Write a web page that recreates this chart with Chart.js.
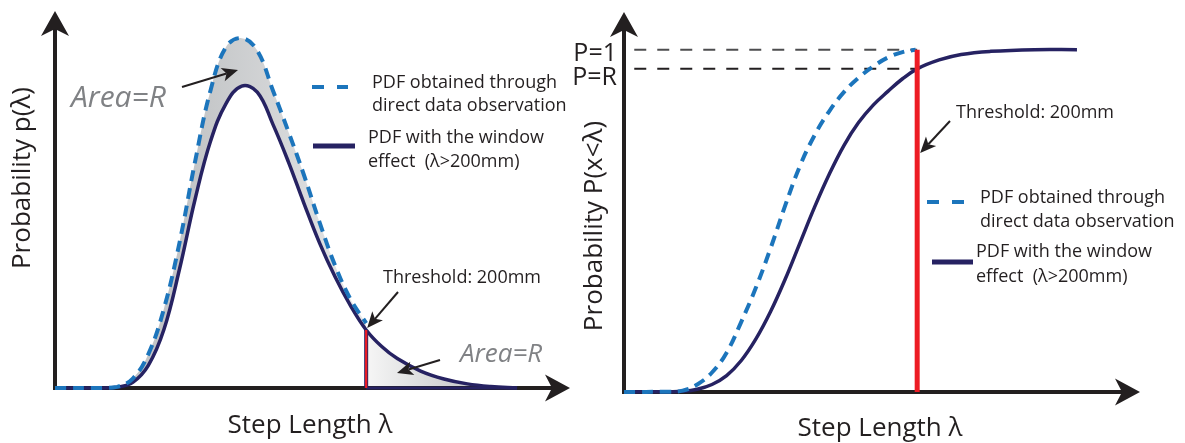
<!DOCTYPE html>
<html>
<head>
<meta charset="utf-8">
<script src="https://cdn.jsdelivr.net/npm/chart.js@4.4.1/dist/chart.umd.min.js"></script>
<style>
  html, body { margin: 0; padding: 0; background: #ffffff; }
  #wrap { position: relative; width: 1185px; height: 443px; overflow: hidden; }
  canvas { position: absolute; left: 0; top: 0; }
</style>
</head>
<body>
<div id="wrap">
  <canvas id="pdfChart" width="1185" height="443"></canvas>
  <canvas id="cdfChart" width="1185" height="443"></canvas>
</div>
<script>
// ---- Probability density of step length (left panel) ----
const pdfObsStep = [0, 30, 40, 50, 60, 70, 80, 90, 100, 110, 120, 130, 140, 150, 160, 170, 180, 190, 200];
const pdfObsProb = [0, 0, 0.003, 0.025, 0.090, 0.210, 0.385, 0.600, 0.790, 0.905, 0.928, 0.895, 0.790, 0.680, 0.565, 0.440, 0.325, 0.235, 0.172];

const pdfWinStep = [0, 30, 40, 50, 60, 70, 80, 90, 100, 110, 120, 130, 140, 150, 160, 170, 180, 190, 200, 210, 220, 235, 250, 265, 280, 297];
const pdfWinProb = [0, 0, 0.002, 0.015, 0.060, 0.155, 0.315, 0.500, 0.655, 0.755, 0.801, 0.785, 0.700, 0.600, 0.490, 0.385, 0.295, 0.218, 0.154, 0.110, 0.078, 0.045, 0.024, 0.011, 0.004, 0];

// ---- Cumulative probability P(x<λ) (right panel) ----
const cdfObsStep = [0, 30, 40, 50, 60, 70, 80, 90, 100, 110, 120, 130, 140, 150, 160, 170, 180, 190, 199];
const cdfObsProb = [0, 0.001, 0.004, 0.022, 0.057, 0.115, 0.205, 0.305, 0.420, 0.545, 0.660, 0.750, 0.820, 0.876, 0.918, 0.951, 0.977, 0.993, 1.0];

const cdfWinStep = [0, 30, 40, 50, 60, 70, 80, 90, 100, 110, 120, 130, 140, 150, 160, 170, 180, 190, 200, 215, 230, 250, 280, 309];
const cdfWinProb = [0, 0.001, 0.002, 0.008, 0.022, 0.048, 0.092, 0.155, 0.235, 0.330, 0.435, 0.540, 0.636, 0.720, 0.787, 0.838, 0.878, 0.915, 0.944, 0.970, 0.986, 0.995, 1.0, 1.0];

// threshold and reference levels
const thresholdStep = 200;                     // mm
const refLabels = ['P=1', 'P=R'];
const refStart = 7;

// text
const legendObs = ['PDF obtained through', 'direct data observation'];
const legendWin = ['PDF with the window', 'effect  (\u03bb>200mm)'];
const thresholdLabel = 'Threshold: 200mm';
const areaLabel = 'Area=R';
const xTitle = 'Step Length \u03bb';
const yTitlePdf = 'Probability p(\u03bb)';
const yTitleCdf = 'Probability P(x<\u03bb)';

// ---- styling ----
const INK = '#231f20', NAVY = '#262262', BLUE = '#1c75bc', RED = '#ed1c24', GREY = '#808285';
const FONT = '"Open Sans", "Liberation Sans", sans-serif';

const zip = (xs, ys) => xs.map((x, i) => ({ x, y: ys[i] }));
const pdfAtThreshold = pdfWinProb[pdfWinStep.indexOf(thresholdStep)];
const cdfAtThreshold = cdfWinProb[cdfWinStep.indexOf(thresholdStep)];
const refLevels = [1, cdfAtThreshold];
const tailPoints = zip(pdfWinStep, pdfWinProb).filter(p => p.x >= thresholdStep);

function arrowHead(ctx, tipX, tipY, angle, len, half, notch, color) {
  ctx.save();
  ctx.translate(tipX, tipY);
  ctx.rotate(angle);
  ctx.beginPath();
  ctx.moveTo(0, 0);
  ctx.lineTo(-len, -half);
  ctx.lineTo(-len + notch, 0);
  ctx.lineTo(-len, half);
  ctx.closePath();
  ctx.fillStyle = color;
  ctx.fill();
  ctx.restore();
}

function pointer(ctx, x1, y1, x2, y2) {
  const a = Math.atan2(y2 - y1, x2 - x1);
  const len = 16, half = 7, notch = 4;
  ctx.save();
  ctx.strokeStyle = INK;
  ctx.lineWidth = 2;
  ctx.beginPath();
  ctx.moveTo(x1, y1);
  ctx.lineTo(x2 - Math.cos(a) * (len - notch), y2 - Math.sin(a) * (len - notch));
  ctx.stroke();
  ctx.restore();
  arrowHead(ctx, x2, y2, a, len, half, notch, INK);
}

function sample(ctx, ds, x1, x2, y, width) {
  ctx.save();
  ctx.strokeStyle = ds.borderColor;
  ctx.lineWidth = width;
  ctx.setLineDash(ds.legendDash || []);
  ctx.beginPath();
  ctx.moveTo(x1, y);
  ctx.lineTo(x2, y);
  ctx.stroke();
  ctx.restore();
}

function texts(ctx, lines, x, y0, step, font, color, align) {
  ctx.save();
  ctx.font = font;
  ctx.fillStyle = color || INK;
  ctx.textAlign = align || 'left';
  ctx.textBaseline = 'alphabetic';
  lines.forEach((t, i) => ctx.fillText(t, x, y0 + i * step));
  ctx.restore();
}

function rotatedText(ctx, t, cx, cy, font) {
  ctx.save();
  ctx.translate(cx, cy);
  ctx.rotate(-Math.PI / 2);
  ctx.font = font;
  ctx.fillStyle = INK;
  ctx.textAlign = 'center';
  ctx.textBaseline = 'middle';
  ctx.fillText(t, 0, 0);
  ctx.restore();
}

// axes drawn as arrows from the scale origin to the scale maxima
const arrowAxes = {
  id: 'arrowAxes',
  beforeDatasetsDraw(chart) {
    const { ctx, scales: { x, y } } = chart;
    const x0 = x.getPixelForValue(x.min), y0 = y.getPixelForValue(y.min);
    const x1 = x.getPixelForValue(x.max), y1 = y.getPixelForValue(y.max);
    ctx.save();
    ctx.strokeStyle = INK;
    ctx.lineWidth = 4;
    ctx.beginPath();
    ctx.moveTo(x0 - 2, y0);
    ctx.lineTo(x1 - 16, y0);
    ctx.moveTo(x0, y0 + 2);
    ctx.lineTo(x0, y1 + 16);
    ctx.stroke();
    ctx.restore();
    arrowHead(ctx, x1, y0, 0, 25, 13.5, 7, INK);
    arrowHead(ctx, x0, y1, -Math.PI / 2, 25, 14, 7, INK);
  }
};

function hGradient(chart, xFrom, xTo, stops) {
  const sx = chart.scales.x;
  const g = chart.ctx.createLinearGradient(sx.getPixelForValue(xFrom), 0, sx.getPixelForValue(xTo), 0);
  stops.forEach(([o, c]) => g.addColorStop(o, c));
  return g;
}

const common = (xMax, yMax, padding) => ({
  responsive: false,
  devicePixelRatio: 1,
  animation: false,
  events: [],
  layout: { padding, autoPadding: false },
  elements: { point: { radius: 0 }, line: { tension: 0.4, capBezierPoints: true } },
  plugins: { legend: { display: false }, tooltip: { enabled: false }, filler: { drawTime: 'beforeDatasetsDraw' } },
  scales: {
    x: { type: 'linear', min: 0, max: xMax, display: false },
    y: { type: 'linear', min: 0, max: yMax, display: false }
  }
});

// ---------------- left: density ----------------
const pdfNotes = {
  id: 'pdfNotes',
  afterDraw(chart) {
    const { ctx, scales: { x, y } } = chart;
    const ds = chart.data.datasets;
    sample(ctx, ds[0], 312, 348, 87, 4);
    sample(ctx, ds[1], 313, 355, 146, 5);
    const small = `18px ${FONT}`;
    texts(ctx, legendObs, 372, 88, 23, small);
    texts(ctx, legendWin, 368, 143, 24, small);
    texts(ctx, [thresholdLabel], 383, 283, 0, small);
    texts(ctx, [areaLabel], 71, 107, 0, `italic 30px ${FONT}`, GREY);
    texts(ctx, [areaLabel], 460, 362, 0, `italic 26px ${FONT}`, GREY);
    pointer(ctx, 182, 87, 238, 70);
    pointer(ctx, 398, 292, x.getPixelForValue(thresholdStep) + 1, y.getPixelForValue(pdfAtThreshold) - 2);
    pointer(ctx, 440, 360, 397, 373);
    texts(ctx, [xTitle], 310, 433, 0, `26px ${FONT}`, INK, 'center');
    rotatedText(ctx, yTitlePdf, 23, 178, `26px ${FONT}`);
  }
};

new Chart(document.getElementById('pdfChart'), {
  type: 'line',
  data: {
    datasets: [
      {
        label: 'obs', data: zip(pdfObsStep, pdfObsProb), order: 2,
        borderColor: BLUE, borderWidth: 4, borderDash: [11, 7], legendDash: [12, 13],
        fill: 1, clip: false,
        backgroundColor: c => c.chart.chartArea ? hGradient(c.chart, 90, 200, [[0, '#c3c5c7'], [1, '#e6e7e8']]) : '#cccccc'
      },
      {
        label: 'win', data: zip(pdfWinStep, pdfWinProb), order: 3,
        borderColor: NAVY, borderWidth: 3.5, fill: false, clip: false
      },
      {
        label: 'tail', data: tailPoints, order: 6,
        borderWidth: 0, borderColor: 'rgba(0,0,0,0)', fill: 'origin', clip: false,
        backgroundColor: c => c.chart.chartArea ? hGradient(c.chart, thresholdStep, 285, [[0, '#f6f6f6'], [1, '#babcbe']]) : '#dddddd'
      },
      {
        label: 'tailBase', data: [{ x: thresholdStep, y: 0 }, { x: pdfWinStep[pdfWinStep.length - 1], y: 0 }], order: 4,
        borderColor: NAVY, borderWidth: 3, fill: false, clip: false, tension: 0
      },
      {
        label: 'tailEdge', data: [{ x: thresholdStep, y: 0 }, { x: thresholdStep, y: pdfAtThreshold }], order: 5,
        borderColor: NAVY, borderWidth: 4, fill: false, clip: false, tension: 0
      },
      {
        label: 'threshold', data: [{ x: thresholdStep, y: 0 }, { x: thresholdStep, y: pdfAtThreshold }], order: 1,
        borderColor: RED, borderWidth: 2.2, fill: false, clip: false, tension: 0
      }
    ]
  },
  options: common(331, 1.0, { left: 55, top: 11, right: 615, bottom: 55 }),
  plugins: [arrowAxes, pdfNotes]
});

// ---------------- right: cumulative ----------------
const cdfNotes = {
  id: 'cdfNotes',
  afterDraw(chart) {
    const { ctx, scales: { x, y } } = chart;
    const ds = chart.data.datasets;
    sample(ctx, ds[0], 927, 964, 202, 4);
    sample(ctx, ds[1], 932, 973, 262, 5);
    const small = `18px ${FONT}`;
    texts(ctx, legendObs, 980, 203, 24, small);
    texts(ctx, legendWin, 976, 257, 25, small);
    texts(ctx, [thresholdLabel], 956, 118, 0, small);
    pointer(ctx, 950, 121, x.getPixelForValue(thresholdStep) + 3, 153);
    refLabels.forEach((t, i) => {
      texts(ctx, [t], 617, y.getPixelForValue(refLevels[i]) + (i === 0 ? 11 : 16), 0, `25px ${FONT}`, INK, 'right');
    });
    texts(ctx, [xTitle], 880, 436, 0, `26px ${FONT}`, INK, 'center');
    rotatedText(ctx, yTitleCdf, 595, 226, `26px ${FONT}`);
  }
};

new Chart(document.getElementById('cdfChart'), {
  type: 'line',
  data: {
    datasets: [
      {
        label: 'obs', data: zip(cdfObsStep, cdfObsProb), order: 2,
        borderColor: BLUE, borderWidth: 4, borderDash: [11, 7], legendDash: [12, 13], fill: false, clip: false
      },
      {
        label: 'win', data: zip(cdfWinStep, cdfWinProb), order: 3,
        borderColor: NAVY, borderWidth: 3.5, fill: false, clip: false
      },
      {
        label: 'P=1', data: [{ x: refStart, y: refLevels[0] }, { x: thresholdStep, y: refLevels[0] }], order: 4,
        borderColor: '#4d4d4f', borderWidth: 2, borderDash: [12, 11], fill: false, clip: false, tension: 0
      },
      {
        label: 'P=R', data: [{ x: refStart, y: refLevels[1] }, { x: thresholdStep, y: refLevels[1] }], order: 4,
        borderColor: INK, borderWidth: 2, borderDash: [12, 11], fill: false, clip: false, tension: 0
      },
      {
        label: 'threshold', data: [{ x: thresholdStep, y: 0 }, { x: thresholdStep, y: 1 }], order: 1,
        borderColor: RED, borderWidth: 5, fill: false, clip: false, tension: 0
      }
    ]
  },
  options: common(352, 1.11, { left: 624, top: 12, right: 45, bottom: 51 }),
  plugins: [arrowAxes, cdfNotes]
});
</script>
</body>
</html>
